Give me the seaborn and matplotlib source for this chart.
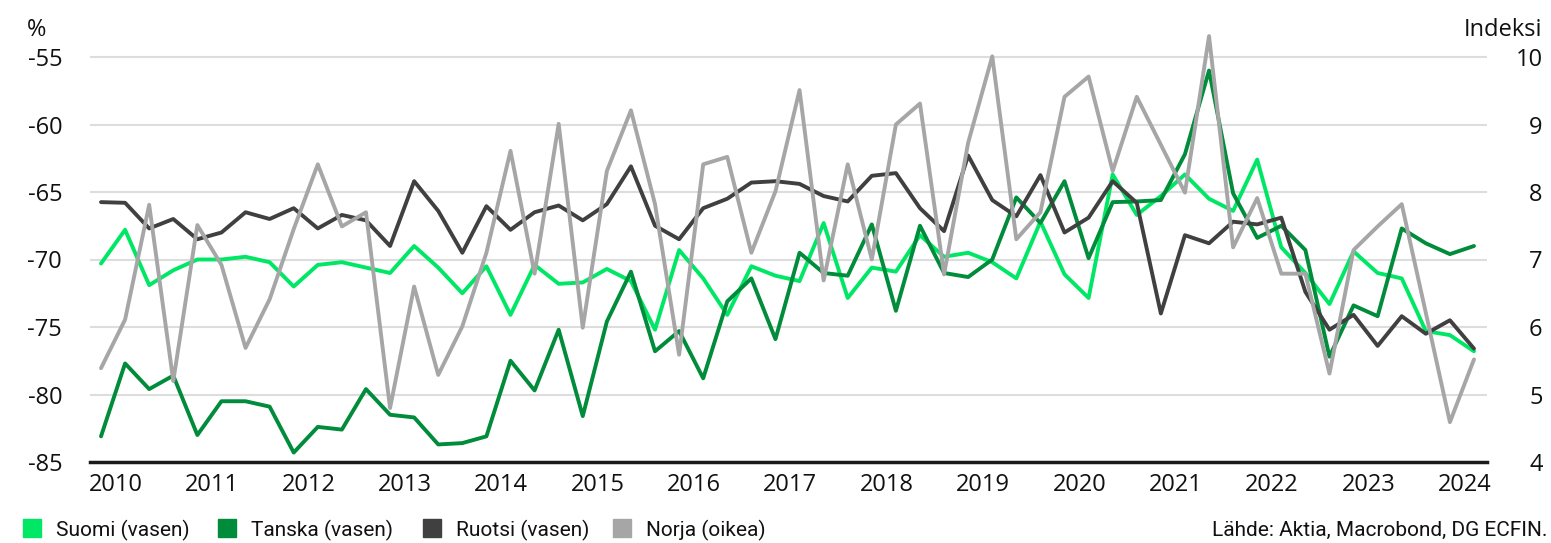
import numpy as np
import pandas as pd
import matplotlib
matplotlib.use("Agg")
import matplotlib.pyplot as plt
from matplotlib.patches import Rectangle
import seaborn as sns

# quarterly data 2010Q1 - 2024Q2
quarters = pd.period_range("2010Q1", "2024Q2", freq="Q")

suomi = [-70.3, -67.8, -71.9, -70.8, -70.0, -70.0, -69.8, -70.2, -72.0, -70.4, -70.2, -70.6, -71.0, -69.0, -70.6, -72.5,
         -70.5, -74.1, -70.4, -71.8, -71.7, -70.7, -71.6, -75.2, -69.3, -71.4, -74.1, -70.5, -71.2, -71.6, -67.3,
         -72.85, -70.6, -70.9, -68.2, -69.8, -69.5, -70.2, -71.4, -67.2, -71.1, -72.85, -63.7, -66.7, -65.3, -63.7,
         -65.5, -66.4, -62.6, -69.1, -71.0, -73.3, -69.4, -71.0, -71.4, -75.3, -75.6, -76.8]
tanska = [-83.1, -77.7, -79.6, -78.6, -83.0, -80.5, -80.5, -80.9, -84.3, -82.4, -82.6, -79.6, -81.5, -81.7, -83.7, -83.6,
          -83.1, -77.5, -79.7, -75.2, -81.6, -74.6, -70.9, -76.8, -75.3, -78.8, -73.1, -71.4, -75.9, -69.5, -71.0,
          -71.2, -67.4, -73.8, -67.5, -71.0, -71.3, -70.0, -65.4, -67.3, -64.2, -69.9, -65.75, -65.7, -65.6, -62.2,
          -56.0, -65.1, -68.4, -67.5, -69.3, -77.2, -73.4, -74.2, -67.7, -68.8, -69.6, -69.0]
ruotsi = [-65.75, -65.8, -67.7, -67.0, -68.5, -68.0, -66.5, -67.0, -66.2, -67.7, -66.7, -67.1, -69.0, -64.2, -66.4, -69.5,
          -66.05, -67.8, -66.5, -66.0, -67.1, -65.9, -63.1, -67.5, -68.5, -66.2, -65.5, -64.3, -64.2, -64.4, -65.3,
          -65.7, -63.8, -63.6, -66.2, -67.9, -62.3, -65.6, -66.8, -63.75, -68.0, -66.9, -64.2, -65.8, -74.0, -68.2,
          -68.8, -67.2, -67.4, -66.9, -72.4, -75.2, -74.1, -76.4, -74.2, -75.5, -74.5, -76.6]
norja = [5.39, 6.11, 7.81, 5.2, 7.51, 6.92, 5.69, 6.41, 7.45, 8.41, 7.49, 7.7, 4.8, 6.6, 5.29, 6.01,
         7.1, 8.61, 6.79, 9.01, 5.99, 8.31, 9.21, 7.82, 5.59, 8.41, 8.52, 7.1, 8.01, 9.51, 6.69,
         8.41, 7.0, 9.0, 9.31, 6.78, 8.73, 10.01, 7.3, 7.7, 9.41, 9.71, 8.31, 9.41, 8.7, 7.99,
         10.31, 7.18, 7.91, 6.79, 6.79, 5.31, 7.14, 7.49, 7.82, 6.21, 4.59, 5.52]

years = list(range(2010, 2025))
left_ticks = [-85, -80, -75, -70, -65, -60, -55]
right_ticks = [4, 5, 6, 7, 8, 9, 10]

labels = ["Suomi (vasen)", "Tanska (vasen)", "Ruotsi (vasen)", "Norja (oikea)"]
colors = ["#00e765", "#008c3a", "#404040", "#a6a6a6"]

x = quarters.year + (quarters.quarter - 1) / 4
df = pd.DataFrame({"x": x, "Suomi": suomi, "Tanska": tanska, "Ruotsi": ruotsi, "Norja": norja})

sns.set_theme(style="white")
plt.rcParams["font.family"] = ["Open Sans", "DejaVu Sans"]
plt.rcParams["axes.unicode_minus"] = False

W, H = 1551, 543
fig = plt.figure(figsize=(W / 100, H / 100), dpi=100)
ax = fig.add_axes([90 / W, (H - 462) / H, (1487 - 90) / W, (462 - 34.05) / H])
ax2 = ax.twinx()

lw = 2.8
sns.lineplot(data=df, x="x", y="Suomi", ax=ax, color=colors[0], lw=lw, zorder=3)
sns.lineplot(data=df, x="x", y="Tanska", ax=ax, color=colors[1], lw=lw, zorder=3)
sns.lineplot(data=df, x="x", y="Ruotsi", ax=ax, color=colors[2], lw=lw, zorder=3)
sns.lineplot(data=df, x="x", y="Norja", ax=ax2, color=colors[3], lw=lw, zorder=3)

ax.set_xlim(2010 - 0.457 / 4, 2010 + 57.54 / 4)
ax.set_ylim(-85, -53.3)
ax2.set_ylim(4, 10.34)

ax.set_yticks(left_ticks)
ax2.set_yticks(right_ticks)
ax.set_xticks([y + 0.155 for y in years])
ax.set_xticklabels([str(y) for y in years])

ax.yaxis.grid(True, color="#dddddd", lw=1.5)
ax.xaxis.grid(False)
ax2.grid(False)
ax.set_axisbelow(True)

for a in (ax, ax2):
    for s in ["top", "left", "right", "bottom"]:
        a.spines[s].set_visible(False)
    a.set_xlabel("")
    a.set_ylabel("")
ax.spines["bottom"].set_visible(True)
ax.spines["bottom"].set_color("#1a1a1a")
ax.spines["bottom"].set_linewidth(2.5)
ax.spines["bottom"].set_zorder(5)

fs = 17
ax.tick_params(axis="y", length=0, pad=20, labelsize=fs, colors="#111111")
ax.tick_params(axis="x", length=0, pad=8, labelsize=fs, colors="#111111")
ax2.tick_params(axis="y", length=0, pad=40, labelsize=fs, colors="#111111")
for t in ax2.get_yticklabels():
    t.set_horizontalalignment("right")

fig.text(27 / W, 1 - 30 / H, "%", fontsize=fs, ha="left", va="center", color="#111111")
fig.text(1542 / W, 1 - 30 / H, "Indeksi", fontsize=fs, ha="right", va="center", color="#111111")

# legend
leg_x = [23, 218, 423, 613]
for lx, lab, c in zip(leg_x, labels, colors):
    fig.patches.append(Rectangle((lx / W, (H - 537) / H), 18 / W, 18 / H,
                                 transform=fig.transFigure, color=c))
    fig.text((lx + 33) / W, 1 - 530 / H, lab, fontsize=15, ha="left", va="center",
             family=["Roboto", "DejaVu Sans"], color="#111111")

fig.text(1548 / W, 1 - 530 / H, "Lähde: Aktia, Macrobond, DG ECFIN.", fontsize=15, ha="right", va="center",
         family=["Roboto", "DejaVu Sans"], color="#111111")

fig.savefig("out.png", dpi=100)
